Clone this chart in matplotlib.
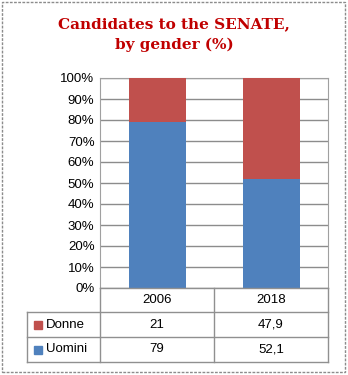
import matplotlib.pyplot as plt
from matplotlib.patches import Rectangle
from matplotlib.lines import Line2D

years = ["2006", "2018"]
donne = [21, 47.9]
uomini = [79, 52.1]
series_names = ["Donne", "Uomini"]
red = "#C0504D"
blue = "#4F81BD"

W, H = 348, 375
fig = plt.figure(figsize=(W / 100, H / 100), dpi=100)


def fx(px):
    return px / W


def fy(py):
    return 1 - py / H


# outer frame
fig.patches.append(Rectangle((fx(2), fy(372)), fx(343), 370 / H, transform=fig.transFigure,
                             fill=False, edgecolor="#8c8c8c", lw=1, ls=(0, (2, 1))))

fig.text(0.5, fy(35), "Candidates to the SENATE,\nby gender (%)", ha="center", va="center",
         color="#C00000", fontsize=11, fontweight="bold", family="DejaVu Serif", linespacing=1.55)

left, right, top, bottom = 100, 328, 78, 288
ax = fig.add_axes([fx(left), fy(bottom), (right - left) / W, (bottom - top) / H])
x = range(len(years))
ax.bar(x, uomini, width=0.5, color=blue, zorder=3)
ax.bar(x, donne, width=0.5, bottom=uomini, color=red, zorder=3)
ax.set_xlim(-0.5, 1.5)
ax.set_ylim(0, 100)
ax.set_yticks(range(0, 101, 10))
ax.set_yticklabels([f"{v}%" for v in range(0, 101, 10)], fontsize=9.5, family="Liberation Sans")
ax.yaxis.grid(True, color="#8c8c8c", lw=1)
ax.tick_params(length=0, pad=4)
ax.set_xticks([])
for s in ax.spines.values():
    s.set_color("#a0a0a0")
    s.set_linewidth(0.8)
ax.spines["bottom"].set_visible(False)

# data table
cols = [27, 100, 214, 328]
rows = [288, 312, 337, 362]
lc = "#909090"


def hline(y, x0, x1):
    fig.add_artist(Line2D([fx(x0), fx(x1)], [fy(y), fy(y)], color=lc, lw=1))


def vline(xp, y0, y1):
    fig.add_artist(Line2D([fx(xp), fx(xp)], [fy(y0), fy(y1)], color=lc, lw=1))


hline(rows[0], cols[1], cols[3])
for r in rows[1:]:
    hline(r, cols[0], cols[3])
vline(cols[0], rows[1], rows[3])
for c in cols[1:]:
    vline(c, rows[0], rows[3])

for i, yr in enumerate(years):
    cx = (cols[i + 1] + cols[i + 2]) / 2
    fig.text(fx(cx), fy((rows[0] + rows[1]) / 2), yr, ha="center", va="center",
             fontsize=9.5, family="Liberation Sans")

for j, (name, vals, col) in enumerate(zip(series_names, [donne, uomini], [red, blue])):
    cy = (rows[j + 1] + rows[j + 2]) / 2
    fig.patches.append(Rectangle((fx(34), fy(cy + 4)), fx(8), 8 / H, transform=fig.transFigure,
                                 color=col))
    fig.text(fx(46), fy(cy), name, ha="left", va="center", fontsize=9.5, family="Liberation Sans")
    for i, v in enumerate(vals):
        cx = (cols[i + 1] + cols[i + 2]) / 2
        fig.text(fx(cx), fy(cy), f"{v:g}".replace(".", ","), ha="center", va="center",
                 fontsize=9.5, family="Liberation Sans")

fig.savefig("out.png", dpi=100)
